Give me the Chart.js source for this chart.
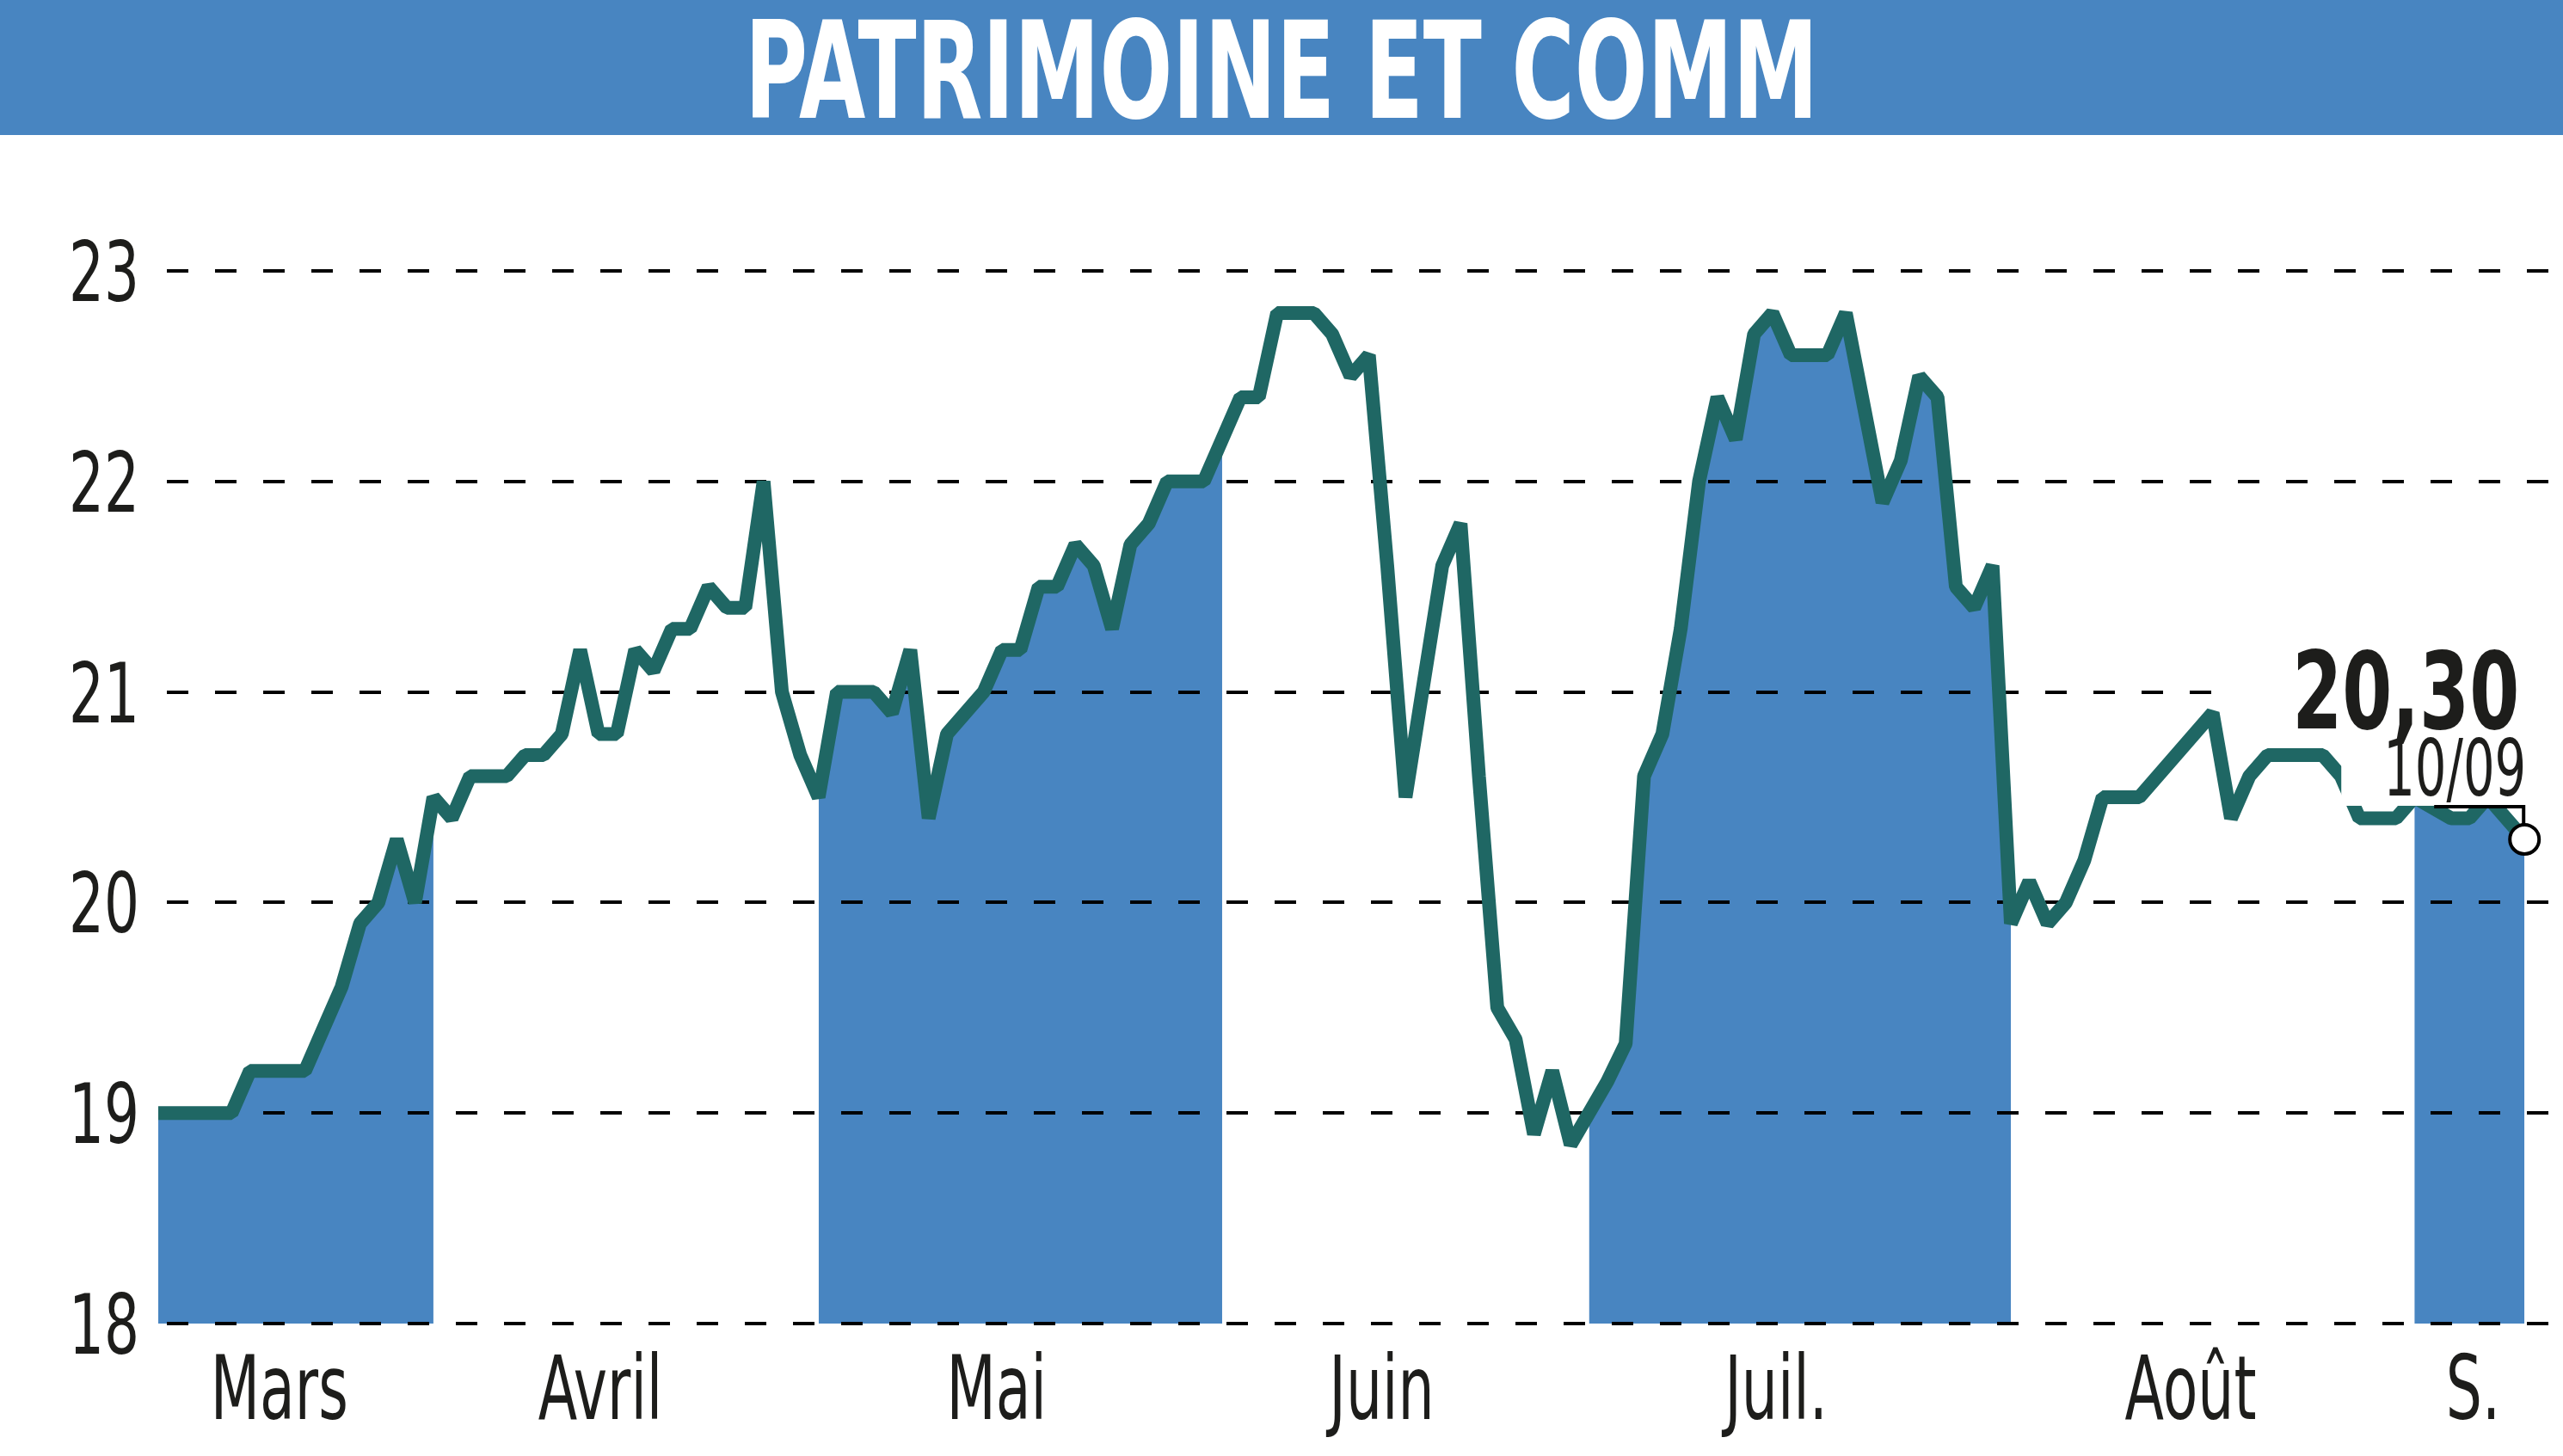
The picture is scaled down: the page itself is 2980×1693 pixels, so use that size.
<!DOCTYPE html>
<html lang="fr">
<head>
<meta charset="UTF-8">
<title>Patrimoine et Commerce</title>
<script src="https://cdn.jsdelivr.net/npm/chart.js"></script>
<style>
  html, body { margin: 0; padding: 0; background: #fff; overflow: hidden; }
  #wrap { width: 2980px; height: 1693px; }
</style>
</head>
<body>
<div id="wrap"><canvas id="stockChart" width="2980" height="1693"></canvas></div>
<script>
// Données (index = séance de bourse depuis le début)
const title = 'PATRIMOINE ET COMM';
const months = ['Mars', 'Avril', 'Mai', 'Juin', 'Juil.', 'Août', 'S.'];
const monthStart = [0, 15, 36, 58, 78, 101, 123];
const labelDay = [6.6, 24.1, 45.7, 66.7, 88.2, 110.8, 126.2];
const yTicks = [18, 19, 20, 21, 22, 23];
const lastDate = '10/09';

const days = [0, 4, 5, 8, 9, 10, 11, 12, 13, 14, 15, 16, 17, 19, 20, 21, 22, 23, 24, 25,
  26, 27, 28, 29, 30, 31, 32, 33, 34, 35, 36, 37, 39, 40, 41, 42, 43, 45, 46, 47,
  48, 49, 50, 51, 52, 53, 54, 55, 57, 58, 59, 60, 61, 63, 64, 65, 66, 67, 68, 69,
  70, 71, 72, 73, 74, 75, 76, 77, 78, 79, 80, 81, 82, 83, 84, 85, 86, 87, 88, 89,
  91, 92, 93, 94, 95, 96, 97, 98, 99, 100, 101, 102, 103, 104, 105, 106, 108, 112, 113, 114,
  115, 118, 119, 120, 122, 123, 125, 126, 127, 129];
const prices = [19.0, 19.0, 19.2, 19.2, 19.4, 19.6, 19.9, 20.0, 20.3, 20.0, 20.5, 20.4, 20.6, 20.6, 20.7, 20.7, 20.8, 21.2, 20.8, 20.8,
  21.2, 21.1, 21.3, 21.3, 21.5, 21.4, 21.4, 22.0, 21.0, 20.7, 20.5, 21.0, 21.0, 20.9, 21.2, 20.4, 20.8, 21.0, 21.2, 21.2,
  21.5, 21.5, 21.7, 21.6, 21.3, 21.7, 21.8, 22.0, 22.0, 22.2, 22.4, 22.4, 22.8, 22.8, 22.7, 22.5, 22.6, 21.6, 20.5, 21.05,
  21.6, 21.8, 20.6, 19.5, 19.35, 18.9, 19.2, 18.85, 19.0, 19.15, 19.33, 20.6, 20.8, 21.3, 22.0, 22.4, 22.2, 22.7, 22.8, 22.6,
  22.6, 22.8, 22.35, 21.9, 22.1, 22.5, 22.4, 21.5, 21.4, 21.6, 19.9, 20.1, 19.9, 20.0, 20.2, 20.5, 20.5, 20.9, 20.4, 20.6,
  20.7, 20.7, 20.6, 20.4, 20.4, 20.5, 20.4, 20.4, 20.5, 20.3];

const BLUE = '#4885c1';
const TEAL = '#1f6764';
const INK = '#1d1d1b';
const FONT = '"Liberation Sans Narrow", "DejaVu Sans Condensed", "DejaVu Sans", sans-serif';

const points = days.map((d, i) => ({ x: d, y: prices[i] }));

// mois colorés : Mars, Mai, Juil., S.
function inBand(x) {
  return monthStart.some((s, m) => {
    const end = m + 1 < monthStart.length ? monthStart[m + 1] : Infinity;
    return m % 2 === 0 && x >= s && x < end;
  });
}

// texte condensé horizontalement (police étroite du modèle)
function drawText(ctx, text, x, y, sx, align) {
  ctx.save();
  ctx.translate(x, y);
  ctx.scale(sx, 1);
  ctx.textAlign = align;
  ctx.fillText(text, 0, 0);
  ctx.restore();
}

function fitText(ctx, text, x, y, width, font, color, align) {
  ctx.save();
  ctx.font = font;
  ctx.fillStyle = color;
  ctx.textBaseline = 'alphabetic';
  drawText(ctx, text, x, y, width / ctx.measureText(text).width, align);
  ctx.restore();
}

const decor = {
  id: 'decor',
  beforeDraw(chart) {
    const ctx = chart.ctx;
    ctx.save();
    ctx.fillStyle = BLUE;
    ctx.fillRect(0, 0, chart.width, 157);
    ctx.restore();
    fitText(ctx, title, chart.width / 2, 137, 1248, 'bold 156px ' + FONT, '#fff', 'center');
  },
  afterDatasetsDraw(chart) {
    const ctx = chart.ctx;
    const pts = chart.getDatasetMeta(0).data;
    const last = pts[pts.length - 1];
    const x = last.x, y = last.y;

    // fond blanc de l'étiquette du dernier cours
    ctx.save();
    ctx.fillStyle = '#fff';
    ctx.fillRect(x - 345, y - 230, 377, 120);
    ctx.fillRect(x - 213, y - 112, 225, 73);

    ctx.strokeStyle = '#000';
    ctx.lineWidth = 4;
    ctx.beginPath();
    ctx.moveTo(x - 105, y - 38);
    ctx.lineTo(x - 1, y - 38);
    ctx.lineTo(x - 1, y - 17);
    ctx.stroke();

    ctx.beginPath();
    ctx.arc(x, y, 17, 0, Math.PI * 2);
    ctx.fillStyle = '#fff';
    ctx.fill();
    ctx.stroke();
    ctx.restore();

    const value = prices[prices.length - 1].toFixed(2).replace('.', ',');
    fitText(ctx, value, x - 6, y - 129, 264, 'bold 124px ' + FONT, INK, 'right');
    fitText(ctx, lastDate, x + 2, y - 51, 166, '90px ' + FONT, INK, 'right');
  },
  afterDraw(chart) {
    // libellés des axes, placés par les échelles de Chart.js
    const ctx = chart.ctx;
    const xs = chart.scales.x, ys = chart.scales.y;
    ctx.save();
    ctx.fillStyle = INK;
    ctx.textBaseline = 'alphabetic';

    ctx.font = '96px ' + FONT;
    const sy = 82 / ctx.measureText('23').width;
    ys.ticks.forEach(t => {
      drawText(ctx, t.label, ys.right - 22, ys.getPixelForValue(t.value) + 35, sy, 'right');
    });

    ctx.font = '104px ' + FONT;
    const sx = 160 / ctx.measureText(months[0]).width;
    xs.ticks.forEach(t => {
      drawText(ctx, t.label, xs.getPixelForValue(t.value), xs.top + 111, sx, 'center');
    });
    ctx.restore();
  }
};

new Chart(document.getElementById('stockChart'), {
  type: 'line',
  data: {
    datasets: [
      {
        data: points,
        borderColor: TEAL,
        borderWidth: 16,
        borderJoinStyle: 'bevel',
        borderCapStyle: 'butt',
        pointRadius: 0,
        pointHoverRadius: 0,
        fill: false
      },
      {
        data: points,
        borderColor: 'rgba(0,0,0,0)',
        borderWidth: 0,
        pointRadius: 0,
        pointHoverRadius: 0,
        backgroundColor: BLUE,
        fill: 'start',
        segment: {
          backgroundColor: c => inBand(c.p0.parsed.x) ? BLUE : 'rgba(0,0,0,0)'
        }
      }
    ]
  },
  options: {
    responsive: false,
    devicePixelRatio: 1,
    animation: false,
    layout: { padding: { top: 315, right: 0, bottom: 0, left: 0 } },
    plugins: {
      legend: { display: false },
      tooltip: { enabled: false },
      filler: { drawTime: 'beforeDraw' }
    },
    scales: {
      x: {
        type: 'linear',
        min: 0,
        max: 131.1,
        afterFit: s => { s.height = 154; },
        afterBuildTicks: s => { s.ticks = labelDay.map(v => ({ value: v })); },
        grid: { display: false },
        border: { display: false },
        ticks: {
          display: false,
          autoSkip: false,
          callback: (v, i) => months[i]
        }
      },
      y: {
        min: yTicks[0],
        max: yTicks[yTicks.length - 1],
        afterFit: s => { s.width = 184; },
        afterBuildTicks: s => { s.ticks = yTicks.map(v => ({ value: v })); },
        grid: { color: '#000', lineWidth: 4, drawTicks: false },
        border: { display: false, dash: [25, 31], dashOffset: 46 },
        ticks: {
          display: false,
          callback: v => String(v)
        }
      }
    }
  },
  plugins: [decor]
});
</script>
</body>
</html>
